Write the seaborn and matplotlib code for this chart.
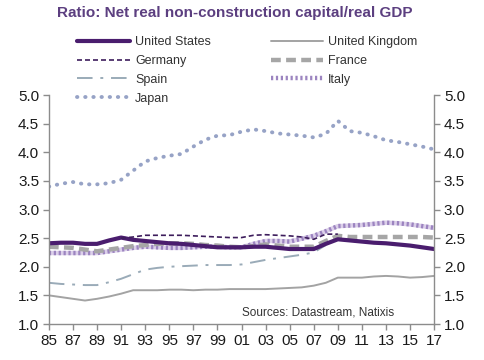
import numpy as np
import pandas as pd
import matplotlib
matplotlib.use("Agg")
import matplotlib.pyplot as plt
import seaborn as sns

years = list(range(1985, 2018))

# values (annual)
us = [2.41, 2.42, 2.42, 2.40, 2.40, 2.46, 2.51, 2.47, 2.45, 2.43, 2.41, 2.40, 2.38, 2.36, 2.34,
      2.34, 2.34, 2.35, 2.35, 2.33, 2.31, 2.31, 2.31, 2.40, 2.48, 2.46, 2.44, 2.42, 2.41, 2.39,
      2.37, 2.34, 2.31]
uk = [1.50, 1.47, 1.44, 1.41, 1.44, 1.48, 1.53, 1.59, 1.59, 1.59, 1.60, 1.60, 1.59, 1.60, 1.60,
      1.61, 1.61, 1.61, 1.61, 1.62, 1.63, 1.64, 1.67, 1.72, 1.81, 1.81, 1.81, 1.83, 1.84, 1.83,
      1.81, 1.82, 1.84]
germany = [np.nan] * 6 + [2.50, 2.52, 2.55, 2.55, 2.55, 2.55, 2.54, 2.53, 2.52, 2.51, 2.51,
                          2.55, 2.56, 2.55, 2.54, 2.52, 2.48, 2.57, 2.57] + [np.nan] * 8
france = [2.35, 2.34, 2.33, 2.30, 2.27, 2.30, 2.33, 2.36, 2.38, 2.40, 2.41, 2.41, 2.40, 2.38, 2.37,
          2.35, 2.34, 2.36, 2.39, 2.37, 2.35, 2.35, 2.35, 2.45, 2.54, 2.52, 2.52, 2.52, 2.52, 2.52,
          2.52, 2.52, 2.51]
spain = [1.72, 1.70, 1.69, 1.68, 1.68, 1.73, 1.79, 1.87, 1.95, 1.98, 2.00, 2.01, 2.02, 2.03, 2.03,
         2.03, 2.04, 2.08, 2.12, 2.15, 2.18, 2.21, 2.25, 2.38] + [np.nan] * 9
italy = [2.24, 2.24, 2.24, 2.24, 2.24, 2.27, 2.30, 2.33, 2.35, 2.34, 2.33, 2.33, 2.34, 2.35, 2.35,
         2.34, 2.34, 2.40, 2.45, 2.45, 2.44, 2.49, 2.54, 2.62, 2.71, 2.72, 2.73, 2.75, 2.77, 2.76,
         2.74, 2.71, 2.68]
japan = [3.40, 3.45, 3.48, 3.44, 3.44, 3.46, 3.52, 3.68, 3.84, 3.90, 3.94, 3.97, 4.10, 4.22, 4.29,
         4.30, 4.36, 4.40, 4.37, 4.33, 4.31, 4.29, 4.26, 4.32, 4.55, 4.37, 4.34, 4.28, 4.21, 4.18,
         4.14, 4.10, 4.05]

df = pd.DataFrame({"year": years, "United States": us, "United Kingdom": uk,
                   "Germany": germany, "France": france, "Spain": spain,
                   "Italy": italy, "Japan": japan})

sns.set_style("white")
plt.rcParams["font.family"] = ["Liberation Sans", "DejaVu Sans"]

fig = plt.figure(figsize=(4.84, 3.6), dpi=100)
ax = fig.add_axes([0.101, 0.1, 0.796, 0.636])

h = {}
h["Japan"] = sns.lineplot(data=df, x="year", y="Japan", ax=ax, color="#97a3c6", lw=2.8,
                          linestyle=(0, (0.1, 2.0)), dash_capstyle="round").lines[-1]
h["United Kingdom"] = sns.lineplot(data=df, x="year", y="United Kingdom", ax=ax,
                                   color="#a3a3a3", lw=1.4).lines[-1]
h["Spain"] = sns.lineplot(data=df, x="year", y="Spain", ax=ax, color="#9aabb8", lw=1.4,
                          linestyle=(0, (8, 4, 1.5, 4))).lines[-1]
# Italy: a lavender band with purple stripes
sns.lineplot(data=df, x="year", y="Italy", ax=ax, color="#dcd0ea", lw=3.2)
h["Italy"] = sns.lineplot(data=df, x="year", y="Italy", ax=ax, color="#9c84c0", lw=3.2,
                          linestyle=(0, (0.5, 0.6))).lines[-1]
h["France"] = sns.lineplot(data=df, x="year", y="France", ax=ax, color="#a6a6a6", lw=3.2,
                           linestyle=(0, (2.2, 1.2))).lines[-1]
h["United States"] = sns.lineplot(data=df, x="year", y="United States", ax=ax,
                                  color="#4a1d6e", lw=3.0, solid_capstyle="round").lines[-1]
h["Germany"] = sns.lineplot(data=df, x="year", y="Germany", ax=ax, color="#3d1d5c", lw=1.2,
                            linestyle=(0, (3, 1.8))).lines[-1]

ax.set_xlim(1985, 2017)
ax.set_ylim(1.0, 5.0)
ax.set_xticks(range(1985, 2018, 2))
ax.set_xticklabels([f"{y % 100:02d}" for y in range(1985, 2018, 2)])
ax.set_yticks(np.arange(1.0, 5.01, 0.5))
ax.set_yticklabels([f"{v:.1f}" for v in np.arange(1.0, 5.01, 0.5)])
ax.set_xlabel("")
ax.set_ylabel("")

for s in ["left", "right", "bottom"]:
    ax.spines[s].set_visible(True)
    ax.spines[s].set_color("#8c8c8c")
    ax.spines[s].set_linewidth(1.0)
ax.spines["top"].set_visible(False)
ax.tick_params(axis="both", which="both", direction="out", length=4, width=1,
               color="#8c8c8c", labelsize=11, labelcolor="#1a1a1a")
ax.tick_params(axis="y", left=True, right=True, labelleft=True, labelright=True, pad=3)
ax.tick_params(axis="x", bottom=True, pad=3)

fig.text(0.485, 0.965, "Ratio: Net real non-construction capital/real GDP",
         ha="center", va="center", fontsize=11, fontweight="bold", color="#5c3f80")

ax.text(0.5, 0.05, "Sources: Datastream, Natixis", transform=ax.transAxes,
        fontsize=8.5, color="#333333", ha="left", va="center")

order = ["United States", "Germany", "Spain", "Japan",
         "United Kingdom", "France", "Italy"]
leg = fig.legend([h[k] for k in order], order, ncol=2, loc="upper left",
                 bbox_to_anchor=(0.16, 0.9), frameon=False, fontsize=9,
                 handlelength=4.2, handletextpad=0.4, labelspacing=0.55,
                 columnspacing=4.8, borderaxespad=0, borderpad=0)
for t in leg.get_texts():
    t.set_color("#333333")

fig.savefig("out.png", dpi=100)
